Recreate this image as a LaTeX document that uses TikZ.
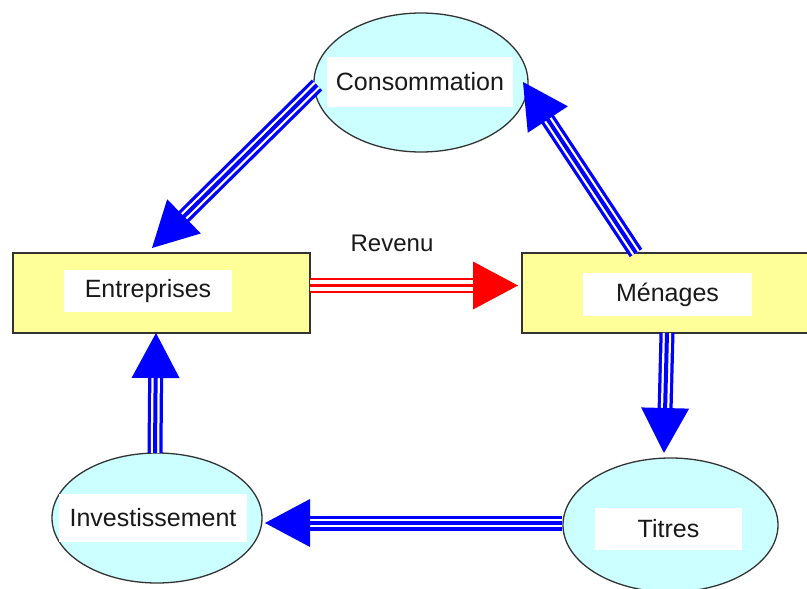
\documentclass[tikz,border=0pt]{standalone}
\usepackage{fontspec}
\setmainfont{Liberation Sans}
\usetikzlibrary{shapes.geometric,calc}
\definecolor{cy}{HTML}{CCFFFF}
\definecolor{yl}{HTML}{FFFF99}
\definecolor{bl}{HTML}{0000FF}
\definecolor{rd}{HTML}{FF0000}
\definecolor{bord}{HTML}{333333}
\tikzset{
  oval/.style={ellipse, draw=bord, line width=1.3pt, fill=cy, inner sep=0pt},
  box/.style={rectangle, draw=bord, line width=2pt, fill=yl, inner sep=0pt},
  lab/.style={rectangle, fill=white, inner sep=0pt, text=black!90, font=\fontsize{25}{30}\selectfont},
  revlab/.style={inner sep=0pt, text=black!90, font=\fontsize{24}{29}\selectfont},
  blueshaft/.style={draw=bl, line width=15pt, postaction={draw=white, line width=8.5pt}, postaction={draw=bl, line width=4pt}},
  redshaft/.style={draw=rd, line width=15pt, postaction={draw=white, line width=10.5pt}, postaction={draw=rd, line width=2.5pt}},
}
% #1 start, #2 tip, #3 shaft style, #4 colour
\newcommand\flowarrow[4]{%
  \path ($(#2)!43pt!(#1)$) coordinate (#2b);
  \draw[#3] (#1) -- (#2b);
  \fill[#4] (#2) -- ($(#2)!45pt!(#1)!24pt!90:(#1)$) -- ($(#2)!45pt!(#1)!24pt!-90:(#1)$) -- cycle;
}
\begin{document}
\begin{tikzpicture}[x=1pt,y=-1pt]
  \useasboundingbox (0,0) rectangle (807,589);
  \clip (0,0) rectangle (807,589);
  \fill[white] (0,0) rectangle (807,589);

  % shapes
  \node[oval, minimum width=214pt, minimum height=139pt] (cons) at (421,82.5) {};
  \node[box, minimum width=297pt, minimum height=80pt] (ent) at (161.5,293) {};
  \node[box, minimum width=300pt, minimum height=80pt] (men) at (672,293) {};
  \node[oval, minimum width=215pt, minimum height=134pt] (tit) at (670.5,525) {};
  \node[oval, minimum width=210pt, minimum height=130pt] (inv) at (157,518) {};

  % arrow end points
  \coordinate (a1s) at (317,85);   \coordinate (a1t) at (152,248);
  \coordinate (a2s) at (636,253);  \coordinate (a2t) at (523,82);
  \coordinate (a3s) at (310,285.5);\coordinate (a3t) at (518,285.5);
  \coordinate (a4s) at (667,333);  \coordinate (a4t) at (664,453);
  \coordinate (a5s) at (562,523);  \coordinate (a5t) at (265,523);
  \coordinate (a6s) at (155,453);  \coordinate (a6t) at (156,333);

  \flowarrow{a1s}{a1t}{blueshaft}{bl}
  \flowarrow{a2s}{a2t}{blueshaft}{bl}
  \flowarrow{a3s}{a3t}{redshaft}{rd}
  \flowarrow{a4s}{a4t}{blueshaft}{bl}
  \flowarrow{a5s}{a5t}{blueshaft}{bl}
  \flowarrow{a6s}{a6t}{blueshaft}{bl}

  % labels
  \node[lab, minimum width=186pt, minimum height=50pt] (consl) at (420,82) {Consommation};
  \node[lab, minimum width=168pt, minimum height=42pt] (entl) at (148,291) {Entreprises};
  \node[lab, minimum width=169pt, minimum height=43pt] (menl) at (667.5,294.5) {Ménages};
  \node[lab, minimum width=147pt, minimum height=42pt] (titl) at (668.5,529) {Titres};
  \node[lab, minimum width=188pt, minimum height=48pt] (invl) at (153,518) {Investissement};
  \node[revlab] (rev) at (392,243) {Revenu};
\end{tikzpicture}
\end{document}
